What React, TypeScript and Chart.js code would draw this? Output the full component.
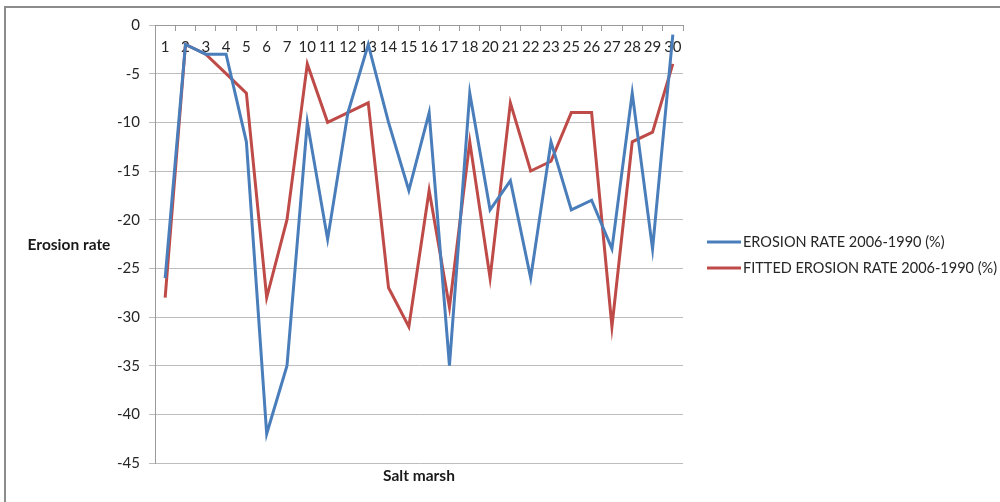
import React, { useEffect, useRef } from "react";
import { Chart, registerables } from "chart.js";

Chart.register(...registerables);

const categories = ["1","2","3","4","5","6","7","10","11","12","13","14","15","16","17","18","20","21","22","23","25","26","27","28","29","30"];
const erosionRate = [-26,-2,-3,-3,-12,-42,-35,-10,-22,-9,-2,-10,-17,-9,-35,-7,-19,-16,-26,-12,-19,-18,-23,-7,-23,-1];
const fittedRate = [-28,-2,-3,-5,-7,-28,-20,-4,-10,-9,-8,-27,-31,-17,-29,-12,-26,-8,-15,-14,-9,-9,-31,-12,-11,-4];
const seriesLabels = ["EROSION RATE 2006-1990 (%)", "FITTED EROSION RATE 2006-1990 (%)"];
const yTitle = "Erosion rate";
const xTitle = "Salt marsh";

const FONT = "Lato, 'Open Sans', sans-serif";

const annotate = {
  id: "annotate",
  afterDraw(chart: any) {
    const { ctx, chartArea } = chart;
    ctx.save();
    ctx.fillStyle = "#1a1a1a";
    ctx.font = `bold 15.5px ${FONT}`;
    ctx.textAlign = "center";
    ctx.textBaseline = "middle";
    ctx.fillText(yTitle, 69, 245);
    ctx.fillText(xTitle, (chartArea.left + chartArea.right) / 2, 476);
    ctx.font = `14.5px ${FONT}`;
    ctx.textAlign = "left";
    chart.data.datasets.forEach((ds: any, i: number) => {
      const y = 242 + i * 26;
      ctx.strokeStyle = ds.borderColor;
      ctx.lineWidth = 3;
      ctx.beginPath();
      ctx.moveTo(707, y);
      ctx.lineTo(741, y);
      ctx.stroke();
      ctx.fillStyle = "#262626";
      ctx.fillText(ds.label, 743, y);
    });
    ctx.restore();
  },
};

export default function App() {
  const ref = useRef<HTMLCanvasElement>(null);
  useEffect(() => {
    if (!ref.current) return;
    const chart = new Chart(ref.current, {
      type: "line",
      data: {
        labels: categories,
        datasets: [
          { label: seriesLabels[0], data: erosionRate, borderColor: "#4a7ebb", backgroundColor: "#4a7ebb", borderWidth: 3, pointRadius: 0, tension: 0 },
          { label: seriesLabels[1], data: fittedRate, borderColor: "#be4b48", backgroundColor: "#be4b48", borderWidth: 3, pointRadius: 0, tension: 0 },
        ],
      },
      options: {
        animation: false,
        responsive: true,
        maintainAspectRatio: false,
        layout: { padding: { left: 0, right: 317, top: 25, bottom: 39 } },
        plugins: { legend: { display: false }, tooltip: { enabled: false } },
        scales: {
          x: {
            type: "category",
            position: { y: 0 } as any,
            offset: true,
            grid: { drawOnChartArea: false, drawTicks: true, tickLength: 5, color: "#9a9a9a", offset: true },
            border: { display: true, color: "#9a9a9a", width: 1 },
            ticks: { autoSkip: false, maxRotation: 0, minRotation: 0, padding: 8, color: "#262626", font: { family: FONT, size: 15 } },
          },
          y: {
            min: -45,
            max: 0,
            afterFit: (scale: any) => { scale.width = 155; },
            grid: { color: "#bdbdbd", lineWidth: 1, tickLength: 6 },
            border: { display: true, color: "#9a9a9a", width: 1 },
            ticks: { stepSize: 5, padding: 9, color: "#262626", font: { family: FONT, size: 15 } },
          },
        },
      },
      plugins: [annotate],
    });
    return () => chart.destroy();
  }, []);
  return (
    <div style={{ position: "absolute", left: 0, top: 0, width: 1000, height: 502, background: "#fff" }}>
      <div style={{ position: "absolute", left: 4, top: 6, right: -10, bottom: -10, borderTop: "2px solid #8c8c8c", borderLeft: "2px solid #8c8c8c" }} />
      <canvas ref={ref} />
    </div>
  );
}
